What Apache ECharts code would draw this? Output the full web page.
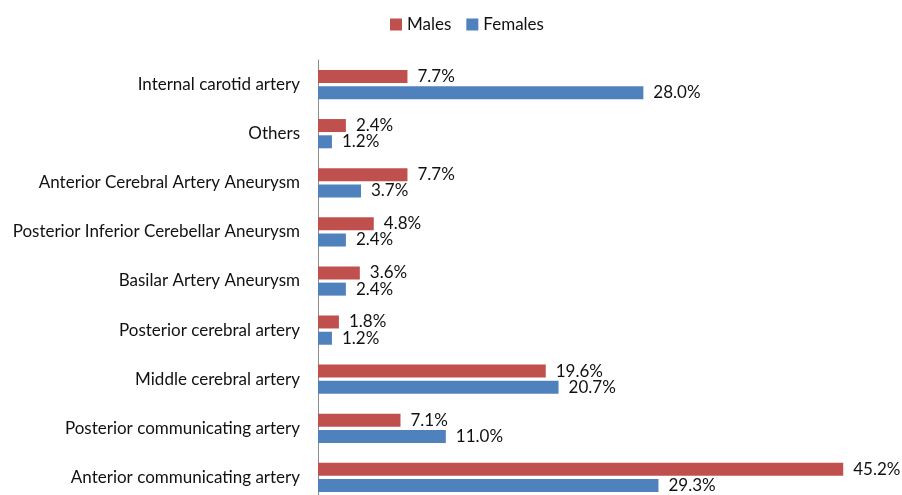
<!DOCTYPE html>
<html>
<head>
<meta charset="utf-8">
<script src="https://cdn.jsdelivr.net/npm/echarts@6/dist/echarts.min.js"></script>
<style>
  html, body { margin: 0; padding: 0; background: #fff; }
  #chart { width: 902px; height: 495px; }
</style>
</head>
<body>
<div id="chart"></div>
<script>
// categories, top to bottom as in the picture
const categories = [
  "Internal carotid artery",
  "Others",
  "Anterior Cerebral Artery Aneurysm",
  "Posterior Inferior Cerebellar Aneurysm",
  "Basilar Artery Aneurysm",
  "Posterior cerebral artery",
  "Middle cerebral artery",
  "Posterior communicating artery",
  "Anterior communicating artery"
];
const males = [7.7, 2.4, 7.7, 4.8, 3.6, 1.8, 19.6, 7.1, 45.2];
const females = [28.0, 1.2, 3.7, 2.4, 2.4, 1.2, 20.7, 11.0, 29.3];

const font = "Lato, 'Open Sans', sans-serif";

function barLabel() {
  return {
    show: true,
    position: "right",
    distance: 10,
    color: "#111",
    fontFamily: font,
    fontSize: 17,
    formatter: p => p.value.toFixed(1) + "%"
  };
}

const chart = echarts.init(document.getElementById("chart"));
chart.setOption({
  animation: false,
  textStyle: { fontFamily: font },
  legend: {
    top: 11,
    left: 385,
    icon: "rect",
    itemWidth: 12,
    itemHeight: 12,
    itemGap: 15,
    itemTextGap: 4,
    textStyle: { fontSize: 17, color: "#111", fontFamily: font },
    data: ["Males", "Females"]
  },
  // grid runs past the bottom edge like the original
  grid: { left: 318, right: 3, top: 60, height: 442, outerBoundsMode: "none" },
  xAxis: {
    type: "value",
    min: 0,
    max: 50,
    show: false
  },
  yAxis: {
    type: "category",
    inverse: true,
    data: categories,
    axisLine: { show: true, lineStyle: { color: "#8c8c8c", width: 1 } },
    axisTick: { show: false },
    axisLabel: { margin: 18, fontSize: 17, color: "#111", fontFamily: font }
  },
  series: [
    {
      name: "Males",
      type: "bar",
      data: males,
      barWidth: 13,
      barGap: "25%",
      itemStyle: { color: "#C0504D" },
      label: barLabel()
    },
    {
      name: "Females",
      type: "bar",
      data: females,
      barWidth: 13,
      barGap: "25%",
      itemStyle: { color: "#4F81BD" },
      label: barLabel()
    }
  ]
});
</script>
</body>
</html>
